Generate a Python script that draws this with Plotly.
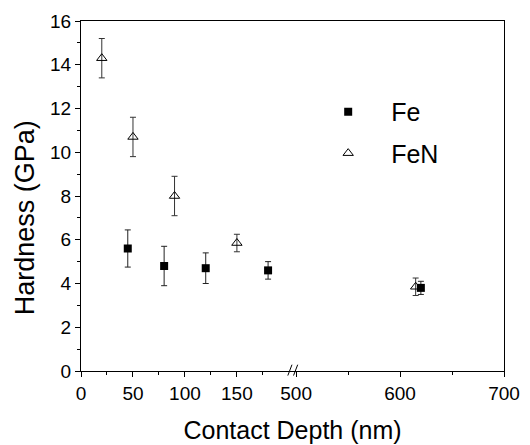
import plotly.graph_objects as go

# Broken x axis: 0-200 and 500-700 nm
BREAK_SHIFT = 293  # values >= 500 are shifted left by this amount

def xv(x):
    return x if x <= 300 else x - BREAK_SHIFT

fe_x = [45, 80, 120, 180, 620]
fe_y = [5.6, 4.8, 4.7, 4.6, 3.8]
fe_err = [0.85, 0.9, 0.7, 0.4, 0.3]

fen_x = [20, 50, 90, 150, 615]
fen_y = [14.3, 10.7, 8.0, 5.85, 3.85]
fen_err = [0.9, 0.9, 0.9, 0.4, 0.4]

x_ticks = [0, 50, 100, 150, 500, 600, 700]
x_minor = [25, 75, 125, 175, 550, 650]
y_ticks = [0, 2, 4, 6, 8, 10, 12, 14, 16]

FONT = "Liberation Sans, Arial, sans-serif"

fig = go.Figure()
fig.add_trace(go.Scatter(
    x=[xv(v) for v in fe_x], y=fe_y, mode="markers", name="Fe",
    marker=dict(symbol="square", size=8, color="black"),
    error_y=dict(type="data", array=fe_err, color="#222", thickness=1, width=3),
    legendgroup="a"))
fig.add_trace(go.Scatter(
    x=[xv(v) for v in fen_x], y=fen_y, mode="markers", name="FeN",
    marker=dict(symbol="triangle-up-open", size=9, color="black", line=dict(width=1)),
    error_y=dict(type="data", array=fen_err, color="#333", thickness=1, width=3),
    legendgroup="b"))

fig.update_xaxes(
    range=[0, xv(700)], tickmode="array",
    tickvals=[xv(v) for v in x_ticks], ticktext=[str(v) for v in x_ticks],
    ticks="outside", ticklen=5, tickwidth=1, tickcolor="black",
    minor=dict(tickmode="array", tickvals=[xv(v) for v in x_minor],
               ticks="outside", ticklen=3, tickcolor="black"),
    showline=True, linecolor="black", linewidth=1, mirror=True,
    showgrid=False, zeroline=False,
    tickfont=dict(family=FONT, size=19, color="black"),
    title=dict(text="Contact Depth (nm)", font=dict(family=FONT, size=25, color="black"),
               standoff=18))
fig.update_yaxes(
    range=[0, 16], tickmode="array", tickvals=y_ticks,
    ticks="outside", ticklen=5, tickwidth=1, tickcolor="black",
    minor=dict(dtick=1, ticks="outside", ticklen=3, tickcolor="black"),
    showline=True, linecolor="black", linewidth=1, mirror=True,
    showgrid=False, zeroline=False,
    tickfont=dict(family=FONT, size=19, color="black"))

fig.add_annotation(text="Hardness (GPa)", textangle=-90, showarrow=False,
                   xref="paper", yref="paper", x=-0.132, y=0.437,
                   xanchor="center", yanchor="middle",
                   font=dict(family=FONT, size=27, color="black"))

# axis-break marks "//"
for x0 in (199, 204.5):
    fig.add_shape(type="line", xref="x", yref="paper",
                  x0=x0, x1=x0 + 4, y0=-0.013, y1=0.018,
                  line=dict(color="black", width=1))

fig.update_layout(
    width=522, height=437,
    margin=dict(l=73, r=26, t=13, b=74, autoexpand=False),
    paper_bgcolor="white", plot_bgcolor="white",
    showlegend=True,
    legend=dict(x=0.53, y=0.806, xanchor="left", yanchor="top",
                bgcolor="rgba(0,0,0,0)", itemwidth=76, tracegroupgap=6,
                traceorder="grouped",
                font=dict(family=FONT, size=25, color="black")),
)

fig.write_html("out.html")
